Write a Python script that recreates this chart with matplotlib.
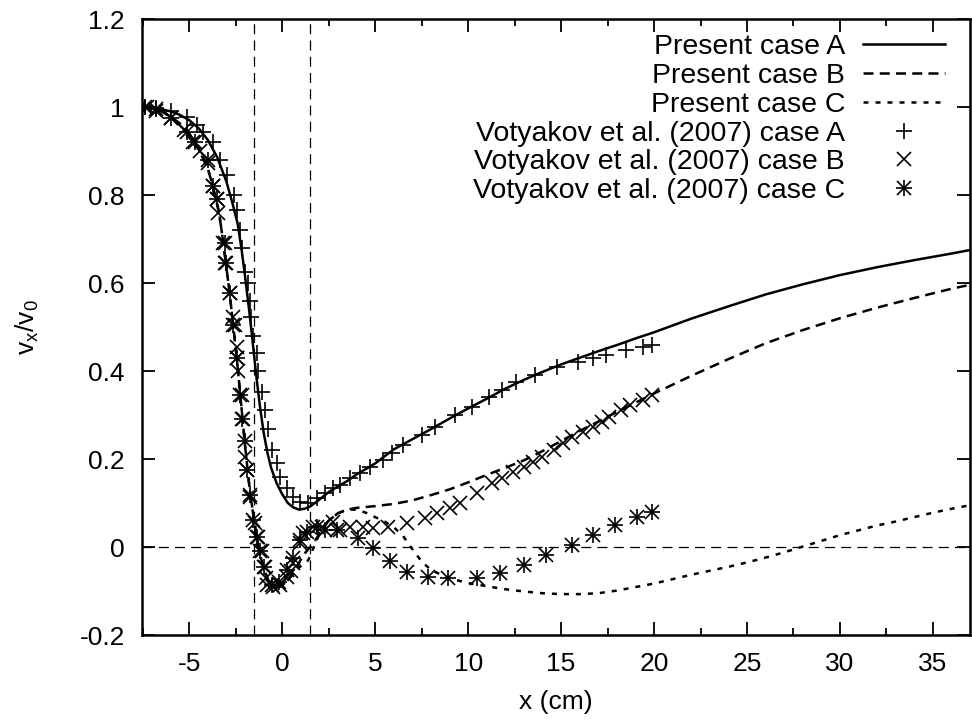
import matplotlib
matplotlib.use("Agg")
import matplotlib.pyplot as plt
from matplotlib.legend_handler import HandlerTuple

plt.rcParams['font.family'] = ['Liberation Sans', 'DejaVu Sans']
plt.rcParams['mathtext.fontset'] = 'custom'
plt.rcParams['mathtext.rm'] = 'Liberation Sans'
plt.rcParams['mathtext.it'] = 'Liberation Sans'
plt.rcParams['axes.unicode_minus'] = False

# Present simulations (curves)
x_a = [-7.5, -7, -6.5, -6, -5.5, -5, -4.5, -4, -3.5, -3.0, -2.7, -2.4, -2.2, -2.0, -1.8,
       -1.6, -1.4, -1.2, -1.0, -0.8, -0.6, -0.3, 0, 0.3, 0.6, 0.9, 1.2, 1.5, 2.0, 2.5,
       3.0, 3.5, 4.0, 5.0, 6.0, 7.0, 8.0, 9.0, 10.0, 11.0, 12.0, 13, 14, 15, 16, 17, 18,
       19, 20, 22, 24, 26, 28, 30, 32, 34, 36, 37]
y_a = [1.0, 0.998, 0.995, 0.99, 0.982, 0.97, 0.952, 0.925, 0.886, 0.83, 0.785, 0.735,
       0.68, 0.615, 0.545, 0.47, 0.39, 0.32, 0.26, 0.215, 0.18, 0.145, 0.12, 0.1, 0.09,
       0.085, 0.087, 0.092, 0.108, 0.125, 0.138, 0.15, 0.165, 0.19, 0.222, 0.245, 0.268,
       0.292, 0.315, 0.337, 0.36, 0.38, 0.398, 0.415, 0.43, 0.445, 0.459, 0.474, 0.488,
       0.519, 0.547, 0.574, 0.597, 0.618, 0.636, 0.652, 0.667, 0.675]

x_b = [-7.5, -7, -6.5, -6, -5.5, -5, -4.5, -4, -3.7, -3.4, -3.2, -3.0, -2.8, -2.6, -2.4,
       -2.2, -2.0, -1.8, -1.6, -1.4, -1.2, -1.0, -0.7, -0.4, -0.1, 0.2, 0.5, 0.8, 1.1,
       1.3, 1.7, 2.0, 2.5, 3.0, 3.5, 4.0, 5.0, 6.0, 7.0, 8.0, 9.0, 10.0, 11.0, 12.0,
       13.0, 14.0, 15.0, 16.0, 17.0, 18.0, 19.0, 20.0, 22, 24, 26, 28, 30, 32, 34, 36, 37]
y_b = [1.0, 0.995, 0.99, 0.978, 0.962, 0.94, 0.905, 0.86, 0.815, 0.76, 0.70, 0.635,
       0.565, 0.49, 0.41, 0.32, 0.23, 0.15, 0.085, 0.03, -0.015, -0.05, -0.08, -0.092,
       -0.09, -0.08, -0.065, -0.045, -0.02, -0.01, 0.01, 0.03, 0.06, 0.077, 0.085, 0.089,
       0.093, 0.098, 0.106, 0.118, 0.131, 0.147, 0.164, 0.18, 0.197, 0.218, 0.241, 0.264,
       0.285, 0.307, 0.328, 0.349, 0.389, 0.427, 0.463, 0.493, 0.52, 0.544, 0.566, 0.587,
       0.596]

x_c = [-7.5, -7, -6.5, -6, -5.5, -5, -4.5, -4, -3.7, -3.4, -3.2, -3.0, -2.8, -2.6, -2.4,
       -2.2, -2.0, -1.8, -1.6, -1.4, -1.2, -1.0, -0.7, -0.4, -0.1, 0.2, 0.5, 0.8, 1.1,
       1.4, 1.7, 2.0, 2.5, 3.0, 3.5, 4.0, 4.5, 5.0, 5.5, 6.0, 6.5, 7.0, 7.5, 8.0, 8.5,
       9.0, 10, 11, 12, 13, 14, 15, 16, 17, 18, 19, 20, 21, 22, 23, 24, 25, 26, 27, 28,
       29, 30, 31, 32, 33, 34, 35, 36, 37]
y_c = [1.0, 0.995, 0.99, 0.978, 0.962, 0.94, 0.905, 0.86, 0.815, 0.76, 0.70, 0.635,
       0.565, 0.49, 0.41, 0.32, 0.23, 0.15, 0.085, 0.03, -0.015, -0.05, -0.08, -0.092,
       -0.09, -0.08, -0.065, -0.05, -0.04, -0.03, 0.0, 0.03, 0.06, 0.077, 0.085, 0.085,
       0.078, 0.068, 0.058, 0.045, 0.025, -0.005, -0.033, -0.052, -0.062, -0.071, -0.082,
       -0.089, -0.096, -0.101, -0.105, -0.107, -0.107, -0.105, -0.099, -0.091, -0.083,
       -0.073, -0.063, -0.054, -0.045, -0.035, -0.024, -0.012, 0.001, 0.014, 0.027, 0.038,
       0.049, 0.058, 0.068, 0.078, 0.087, 0.095]

# Votyakov et al. (2007) data points
vx_a = [-7.4, -6.8, -6.0, -5.1, -4.6, -4.25, -3.7, -3.33, -2.96, -2.6, -2.45, -2.26, -2.15,
        -1.99, -1.83, -1.72, -1.67, -1.56, -1.34, -1.29, -1.08, -0.91, -0.75, -0.54, -0.27,
        -0.1, 0.27, 0.6, 0.97, 1.4, 1.88, 2.3, 2.74, 3.1, 3.66, 4.2, 4.7, 5.4, 5.9, 6.5,
        7.5, 8.2, 9.3, 10.2, 11.1, 11.8, 12.6, 13.6, 14.8, 15.9, 16.7, 17.4, 18.5, 19.4,
        19.9]
vy_a = [1.0, 0.998, 0.99, 0.977, 0.96, 0.943, 0.92, 0.88, 0.845, 0.80, 0.766, 0.72, 0.68,
        0.625, 0.60, 0.56, 0.523, 0.48, 0.44, 0.40, 0.352, 0.311, 0.268, 0.22, 0.19, 0.16,
        0.134, 0.114, 0.102, 0.10, 0.111, 0.122, 0.134, 0.141, 0.157, 0.168, 0.182, 0.198,
        0.214, 0.232, 0.255, 0.273, 0.30, 0.318, 0.341, 0.357, 0.375, 0.39, 0.41, 0.42,
        0.43, 0.436, 0.448, 0.455, 0.459]

vx_b = [-7.3, -6.8, -6.0, -5.3, -4.8, -4.4, -4.0, -3.7, -3.5, -3.44, -3.2, -3.06, -2.8,
        -2.63, -2.53, -2.42, -2.42, -2.37, -2.15, -2.1, -2.0, -1.88, -1.72, -1.45, -1.29,
        -1.08, -0.95, -0.85, -0.8, -0.48, -0.1, 0.27, 0.45, 0.6, 0.97, 1.13, 1.67, 2.15,
        2.74, 3.1, 3.66, 4.35, 4.9, 5.7, 6.7, 7.7, 8.3, 9.0, 9.57, 10.5, 11.3, 11.8, 12.4,
        13.0, 13.5, 14.0, 14.6, 15.1, 15.6, 16.2, 16.7, 17.2, 17.6, 18.2, 18.7, 19.4, 19.9]
vy_b = [1.0, 0.99, 0.975, 0.948, 0.92, 0.90, 0.872, 0.82, 0.79, 0.76, 0.69, 0.645, 0.577,
        0.523, 0.505, 0.455, 0.43, 0.40, 0.345, 0.29, 0.205, 0.175, 0.114, 0.055, 0.023,
        -0.01, -0.045, -0.07, -0.086, -0.09, -0.086, -0.068, -0.055, -0.036, 0.009, 0.032,
        0.045, 0.045, 0.057, 0.039, 0.045, 0.045, 0.043, 0.045, 0.055, 0.066, 0.077,
        0.089, 0.10, 0.123, 0.145, 0.157, 0.17, 0.182, 0.193, 0.205, 0.22, 0.236, 0.25,
        0.261, 0.273, 0.284, 0.295, 0.311, 0.323, 0.334, 0.345]

vx_c = [-7.4, -6.8, -6.0, -5.1, -4.7, -4.0, -3.7, -3.5, -3.1, -3.0, -2.8, -2.63, -2.42,
        -2.26, -2.15, -2.0, -1.88, -1.72, -1.56, -1.34, -1.18, -1.0, -0.54, -0.2, 0.27,
        0.6, 0.97, 1.34, 1.88, 2.3, 2.96, 4.1, 4.9, 5.8, 6.7, 7.85, 8.9, 10.5, 11.7, 13.0,
        14.2, 15.6, 16.7, 17.9, 19.1, 19.9]
vy_c = [1.0, 0.995, 0.975, 0.943, 0.92, 0.88, 0.82, 0.79, 0.69, 0.645, 0.577, 0.505, 0.43,
        0.345, 0.29, 0.24, 0.175, 0.118, 0.061, 0.023, -0.01, -0.045, -0.086, -0.08,
        -0.052, -0.025, 0.016, 0.034, 0.045, 0.039, 0.039, 0.02, -0.002, -0.032, -0.057,
        -0.068, -0.07, -0.07, -0.06, -0.041, -0.018, 0.005, 0.027, 0.05, 0.068, 0.08]

x_ticks = [-5, 0, 5, 10, 15, 20, 25, 30, 35]
y_ticks = [-0.2, 0, 0.2, 0.4, 0.6, 0.8, 1, 1.2]
y_tick_labels = ['-0.2', '0', '0.2', '0.4', '0.6', '0.8', '1', '1.2']

fig = plt.figure(figsize=(9.72, 7.26), dpi=100)
ax = fig.add_axes([0.1456, 0.1253, 0.8524, 0.8485])

# guide lines
ax.axhline(0, color='black', lw=0.9, ls=(0, (8, 5)), zorder=1)
ax.axvline(-1.5, color='black', lw=0.9, ls=(0, (8, 5)), zorder=1)
ax.axvline(1.5, color='black', lw=0.9, ls=(0, (8, 5)), zorder=1)

la, = ax.plot(x_a, y_a, color='black', lw=1.8)
lb, = ax.plot(x_b, y_b, color='black', lw=1.8, ls=(0, (4, 2.5)))
lc, = ax.plot(x_c, y_c, color='black', lw=1.8, ls=(0, (2, 2.8)))

plus = dict(ls='none', color='black', marker='+', ms=12, mew=1.2)
cross = dict(ls='none', color='black', marker='x', ms=10, mew=1.2)
pa, = ax.plot(vx_a, vy_a, **plus)
pb, = ax.plot(vx_b, vy_b, **cross)
pc1, = ax.plot(vx_c, vy_c, **plus)
pc2, = ax.plot(vx_c, vy_c, **cross)

ax.set_xlim(-7.57, 37)
ax.set_ylim(-0.2, 1.2)
ax.set_xticks(x_ticks)
ax.set_xticks([-7.5, -2.5, 2.5, 7.5, 12.5, 17.5, 22.5, 27.5, 32.5], minor=True)
ax.set_yticks(y_ticks)
ax.set_yticklabels(y_tick_labels)
ax.tick_params(which='both', direction='in', top=True, right=True, labelsize=19, width=1.3)
ax.tick_params(which='major', length=9.5)
ax.tick_params(which='minor', length=5)
ax.tick_params(axis='x', pad=12)
ax.tick_params(axis='y', pad=12)
for s in ax.spines.values():
    s.set_linewidth(1.8)

ax.set_xlabel('x (cm)', fontsize=19, labelpad=10)
ax.set_ylabel(r'v$_\mathregular{x}$/v$_\mathregular{0}$', fontsize=19, labelpad=28)

ax.legend([la, lb, lc, pa, pb, (pc1, pc2)],
          ['Present case A', 'Present case B', 'Present case C',
           'Votyakov et al. (2007) case A', 'Votyakov et al. (2007) case B',
           'Votyakov et al. (2007) case C'],
          handler_map={tuple: HandlerTuple(ndivide=1, pad=0)},
          loc='upper right', bbox_to_anchor=(0.9698, 0.9756), markerfirst=False,
          frameon=False, fontsize=20.5, handlelength=2.88, handletextpad=0.63,
          labelspacing=0.1, borderpad=0, borderaxespad=0, numpoints=1)

fig.savefig('out.png', dpi=100)
